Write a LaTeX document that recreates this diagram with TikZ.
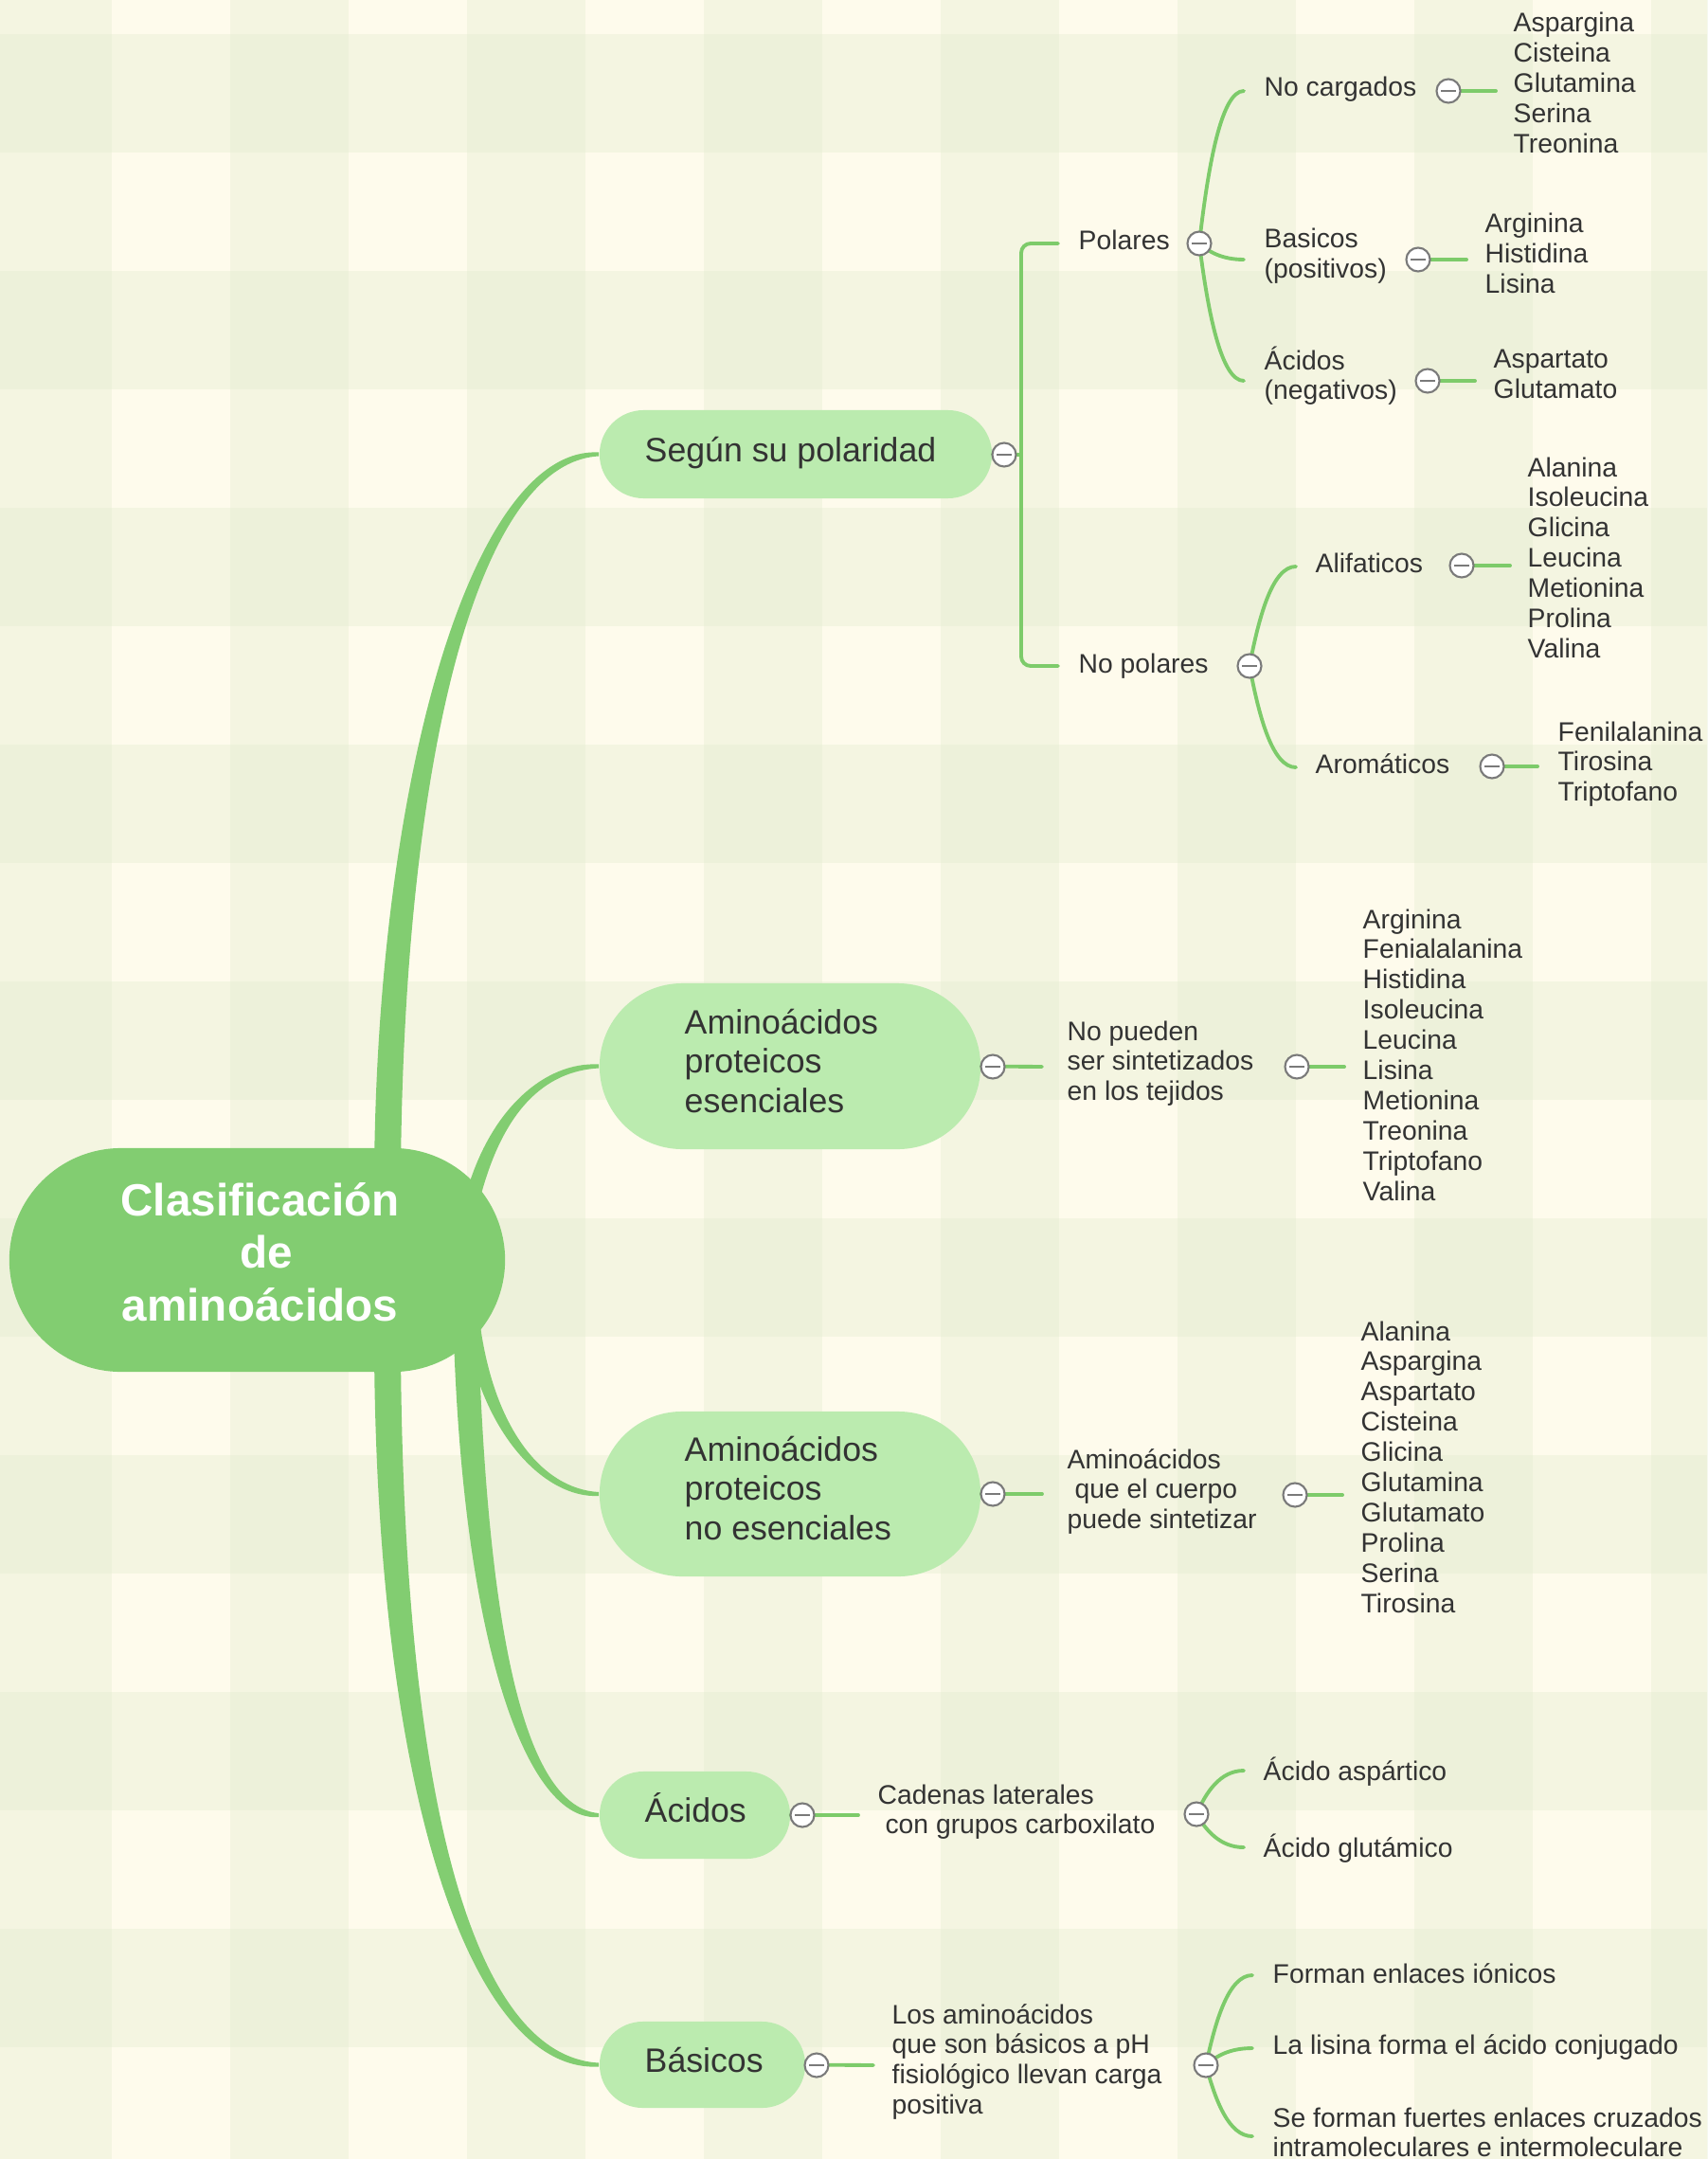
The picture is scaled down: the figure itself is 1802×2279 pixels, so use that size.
\documentclass[tikz,border=0pt]{standalone}
\usepackage{fontspec}
\setmainfont{Liberation Sans}
\usetikzlibrary{calc}
\definecolor{cream}{HTML}{FEFBEC}
\definecolor{band}{HTML}{E1EACC}
\definecolor{mgreen}{HTML}{82CD71}
\definecolor{lgreen}{HTML}{BBEBAF}
\definecolor{lgreen2}{HTML}{7DCB6A}
\definecolor{ink}{HTML}{333333}
\definecolor{btngray}{HTML}{7A7A7A}
\newcommand{\lst}[1]{\begin{tabular}[t]{@{}l@{}}#1\end{tabular}}
\newcommand{\clst}[1]{\begin{tabular}[t]{@{}c@{}}#1\end{tabular}}
% tapered trunk: #1 start coord, #2 end coord, #3 ctrl1 rel start, #4 ctrl2 rel end, #5 half width at start, #6 sign (-1 up, 1 down)
\newcommand{\taper}[6]{%
  \fill[mgreen] ($(#1)+(-#5,0)$) .. controls ($(#1)+(#3)+(-#5,0)$) and ($(#2)+(#4)+(0,#6*0.65*#5)$) .. ($(#2)+(0,#6*2)$)
    -- ($(#2)+(0,-#6*2)$) .. controls ($(#2)+(#4)+(0,-#6*0.65*#5)$) and ($(#1)+(#3)+(#5,0)$) .. ($(#1)+(#5,0)$) -- cycle;}
\tikzset{
  pill/.style={fill=lgreen, draw=none, inner sep=0pt},
  rootnode/.style={fill=mgreen, draw=none, inner sep=0pt, minimum width=5.23cm, minimum height=2.36cm, rounded corners=1.18cm},
  cbtn/.style={circle, draw=btngray, fill=white, line width=0.6pt, minimum size=0.25cm, inner sep=0pt,
    path picture={\draw[btngray, line width=0.75pt] ([xshift=-0.08cm]path picture bounding box.center) -- ([xshift=0.08cm]path picture bounding box.center);}},
  conn/.style={draw=lgreen2, line width=1.1pt, line cap=round},
  lvlthree/.style={font=\fontsize{8.05pt}{9.08pt}\selectfont, text=ink, inner sep=0pt, anchor=base west},
  lvltwo/.style={font=\fontsize{10.15pt}{11.8pt}\selectfont, text=ink, inner sep=0pt, anchor=base west},
  ttl/.style={font=\fontsize{13.55pt}{15.9pt}\selectfont\bfseries, text=white, inner sep=0pt, anchor=base}
}
\begin{document}
\begin{tikzpicture}[x=0.01cm,y=-0.01cm]
\useasboundingbox (0,0) rectangle (1802,2279);
% background plaid
\fill[cream] (0,0) rectangle (1802,2279);
\foreach \k in {0,...,8} {\fill[band,opacity=0.32] (0,36+250*\k) rectangle (1802,161+250*\k);}
\foreach \k in {0,...,7} {\fill[band,opacity=0.32] (-7+250*\k,0) rectangle (118+250*\k,2279);}

% level-2 topic shapes
\node[pill, minimum width=4.14cm, minimum height=0.93cm, rounded corners=0.465cm] (n1) at (840,479.5) {};
\node[pill, minimum width=4.02cm, minimum height=1.75cm, rounded corners=0.875cm] (n2) at (834,1125.5) {};
\node[pill, minimum width=4.02cm, minimum height=1.74cm, rounded corners=0.87cm] (n3) at (834,1577) {};
\node[pill, minimum width=2.01cm, minimum height=0.92cm, rounded corners=0.46cm] (n4) at (733.5,1916) {};
\node[pill, minimum width=2.17cm, minimum height=0.91cm, rounded corners=0.455cm] (n5) at (741.5,2179.5) {};

% trunk starts (hidden under the root)
\coordinate (b1s) at (409,1240);
\coordinate (b2s) at (498,1268);
\coordinate (b3s) at (498,1392);
\coordinate (b4s) at (492,1412);
\coordinate (b5s) at (409,1425);
\taper{b1s}{n1.west}{3,-420}{-133,0}{14}{-1}
\taper{b2s}{n2.west}{24,-95}{-58,0}{8}{-1}
\taper{b3s}{n3.west}{14,115}{-60,0}{8}{1}
\taper{b4s}{n4.west}{11,328}{-75,0}{13}{1}
\taper{b5s}{n5.west}{3,475}{-133,0}{14}{1}

% root
\node[rootnode] (root) at (271.5,1330) {};
\node[ttl] (title) at (274.5,1283) {\clst{Clasificación\\\ de\\aminoácidos}};

% level-2 texts
\node[lvltwo] (n1t) at (680,487) {Según su polaridad};
\node[lvltwo] (n2t) at (722,1091) {\lst{Aminoácidos\\proteicos\\esenciales}};
\node[lvltwo] (n3t) at (722,1542) {\lst{Aminoácidos\\proteicos\\no esenciales}};
\node[lvltwo] (n4t) at (680,1923) {Ácidos};
\node[lvltwo] (n5t) at (680,2187) {Básicos};

% ---------- branch 1 ----------
\coordinate (bar) at (1078,480);
\coordinate (pE) at (1117,257);
\coordinate (npE) at (1117,703);
\draw[conn, rounded corners=0.1cm] (pE) -- ++(-39,0) -- ($(npE)+(-39,0)$) -- (npE);
\draw[conn] (n1.east) -- (bar);
\node[lvlthree] (tPol) at (1138,264) {Polares};
\node[lvlthree] (tNoPol) at (1138,710) {No polares};

\coordinate (ncE) at (1313,96);
\coordinate (bpE) at (1313,274);
\coordinate (anE) at (1313,402);
\coordinate (cPol) at (1266,257);
\draw[conn] (cPol) .. controls +(9,-80) and +(-24,0) .. (ncE);
\draw[conn] (cPol) .. controls +(9,8) and +(-24,0) .. (bpE);
\draw[conn] (cPol) .. controls +(9,72) and +(-24,0) .. (anE);
\node[lvlthree] (tNoC) at (1334,102) {No cargados};
\node[lvlthree] (tBas) at (1334,262) {\lst{Basicos\\(positivos)}};
\node[lvlthree] (tAcn) at (1334,390) {\lst{Ácidos\\(negativos)}};

\coordinate (l1E) at (1579,96);
\coordinate (l2E) at (1548,274);
\coordinate (l3E) at (1557,402);
\coordinate (cNoC) at (1529,96);
\coordinate (cBas) at (1497,274);
\coordinate (cAcn) at (1507,402);
\draw[conn] (cNoC) -- (l1E);
\draw[conn] (cBas) -- (l2E);
\draw[conn] (cAcn) -- (l3E);
\node[lvlthree] (lNoC) at (1597,33.5) {\lst{Aspargina\\Cisteina\\Glutamina\\Serina\\Treonina}};
\node[lvlthree] (lBas) at (1567,246) {\lst{Arginina\\Histidina\\Lisina}};
\node[lvlthree] (lAcn) at (1576,389) {\lst{Aspartato\\Glutamato}};

\coordinate (cNP) at (1319,703);
\coordinate (alE) at (1368,598);
\coordinate (arE) at (1368,810);
\draw[conn] (cNP) .. controls +(10,-52) and +(-25,0) .. (alE);
\draw[conn] (cNP) .. controls +(10,53) and +(-25,0) .. (arE);
\node[lvlthree] (tAli) at (1388,604) {Alifaticos};
\node[lvlthree] (tAro) at (1388,816) {Aromáticos};
\coordinate (cAli) at (1543,597);
\coordinate (cAro) at (1575,809);
\coordinate (l4E) at (1594,597);
\coordinate (l5E) at (1623,809);
\draw[conn] (cAli) -- (l4E);
\draw[conn] (cAro) -- (l5E);
\node[lvlthree] (lAli) at (1612,503) {\lst{Alanina\\Isoleucina\\Glicina\\Leucina\\Metionina\\Prolina\\Valina}};
\node[lvlthree] (lAro) at (1644,782) {\lst{Fenilalanina\\Tirosina\\Triptofano}};

\node[cbtn] (k1) at (1060,480) {};
\node[cbtn] (kPol) at (cPol) {};
\node[cbtn] (kNoC) at (cNoC) {};
\node[cbtn] (kBas) at (cBas) {};
\node[cbtn] (kAcn) at (cAcn) {};
\node[cbtn] (kNP) at (cNP) {};
\node[cbtn] (kAli) at (cAli) {};
\node[cbtn] (kAro) at (cAro) {};

% ---------- branch 2 ----------
\coordinate (e2a) at (1100,1126);
\coordinate (e2b) at (1419,1126);
\coordinate (c2b) at (1369,1126);
\draw[conn] (n2.east) -- (e2a);
\draw[conn] (c2b) -- (e2b);
\node[lvlthree] (t2) at (1126,1098) {\lst{No pueden\\ser sintetizados\\en los tejidos}};
\node[lvlthree] (l2) at (1438,980) {\lst{Arginina\\Fenialalanina\\Histidina\\Isoleucina\\Leucina\\Lisina\\Metionina\\Treonina\\Triptofano\\Valina}};
\node[cbtn] (k2) at (1048,1126) {};
\node[cbtn] (k2b) at (c2b) {};

% ---------- branch 3 ----------
\coordinate (e3a) at (1100,1577);
\coordinate (e3b) at (1417,1578);
\coordinate (c3b) at (1367,1578);
\draw[conn] (n3.east) -- (e3a);
\draw[conn] (c3b) -- (e3b);
\node[lvlthree] (t3) at (1126,1550) {\lst{Aminoácidos\\\ que el cuerpo\\puede sintetizar}};
\node[lvlthree] (l3) at (1436,1415) {\lst{Alanina\\Aspargina\\Aspartato\\Cisteina\\Glicina\\Glutamina\\Glutamato\\Prolina\\Serina\\Tirosina}};
\node[cbtn] (k3) at (1048,1577) {};
\node[cbtn] (k3b) at (c3b) {};

% ---------- branch 4 ----------
\coordinate (e4a) at (906,1916);
\coordinate (c4b) at (1263,1915);
\coordinate (asE) at (1313,1869);
\coordinate (guE) at (1313,1950);
\draw[conn] (n4.east) -- (e4a);
\draw[conn] (c4b) .. controls +(10,-23) and +(-25,0) .. (asE);
\draw[conn] (c4b) .. controls +(10,17) and +(-25,0) .. (guE);
\node[lvlthree] (t4) at (926,1904) {\lst{Cadenas laterales\\\ con grupos carboxilato}};
\node[lvlthree] (t4a) at (1333,1879) {Ácido aspártico};
\node[lvlthree] (t4b) at (1333,1960) {Ácido glutámico};
\node[cbtn] (k4) at (847,1916) {};
\node[cbtn] (k4b) at (c4b) {};

% ---------- branch 5 ----------
\coordinate (e5a) at (922,2180);
\coordinate (c5b) at (1273,2180);
\coordinate (f1E) at (1322,2085);
\coordinate (f2E) at (1322,2162);
\coordinate (f3E) at (1322,2255);
\draw[conn] (n5.east) -- (e5a);
\draw[conn] (c5b) .. controls +(10,-47) and +(-25,0) .. (f1E);
\draw[conn] (c5b) .. controls +(10,-9) and +(-25,0) .. (f2E);
\draw[conn] (c5b) .. controls +(10,37) and +(-25,0) .. (f3E);
\node[lvlthree] (t5) at (941,2136) {\lst{Los aminoácidos\\que son básicos a pH\\fisiológico llevan carga\\positiva}};
\node[lvlthree] (t5a) at (1343,2093) {Forman enlaces iónicos};
\node[lvlthree] (t5b) at (1343,2168) {La lisina forma el ácido conjugado};
\node[lvlthree] (t5c) at (1343,2245) {\lst{Se forman fuertes enlaces cruzados\\intramoleculares e intermoleculare}};
\node[cbtn] (k5) at (862,2180) {};
\node[cbtn] (k5b) at (c5b) {};
\end{tikzpicture}
\end{document}
